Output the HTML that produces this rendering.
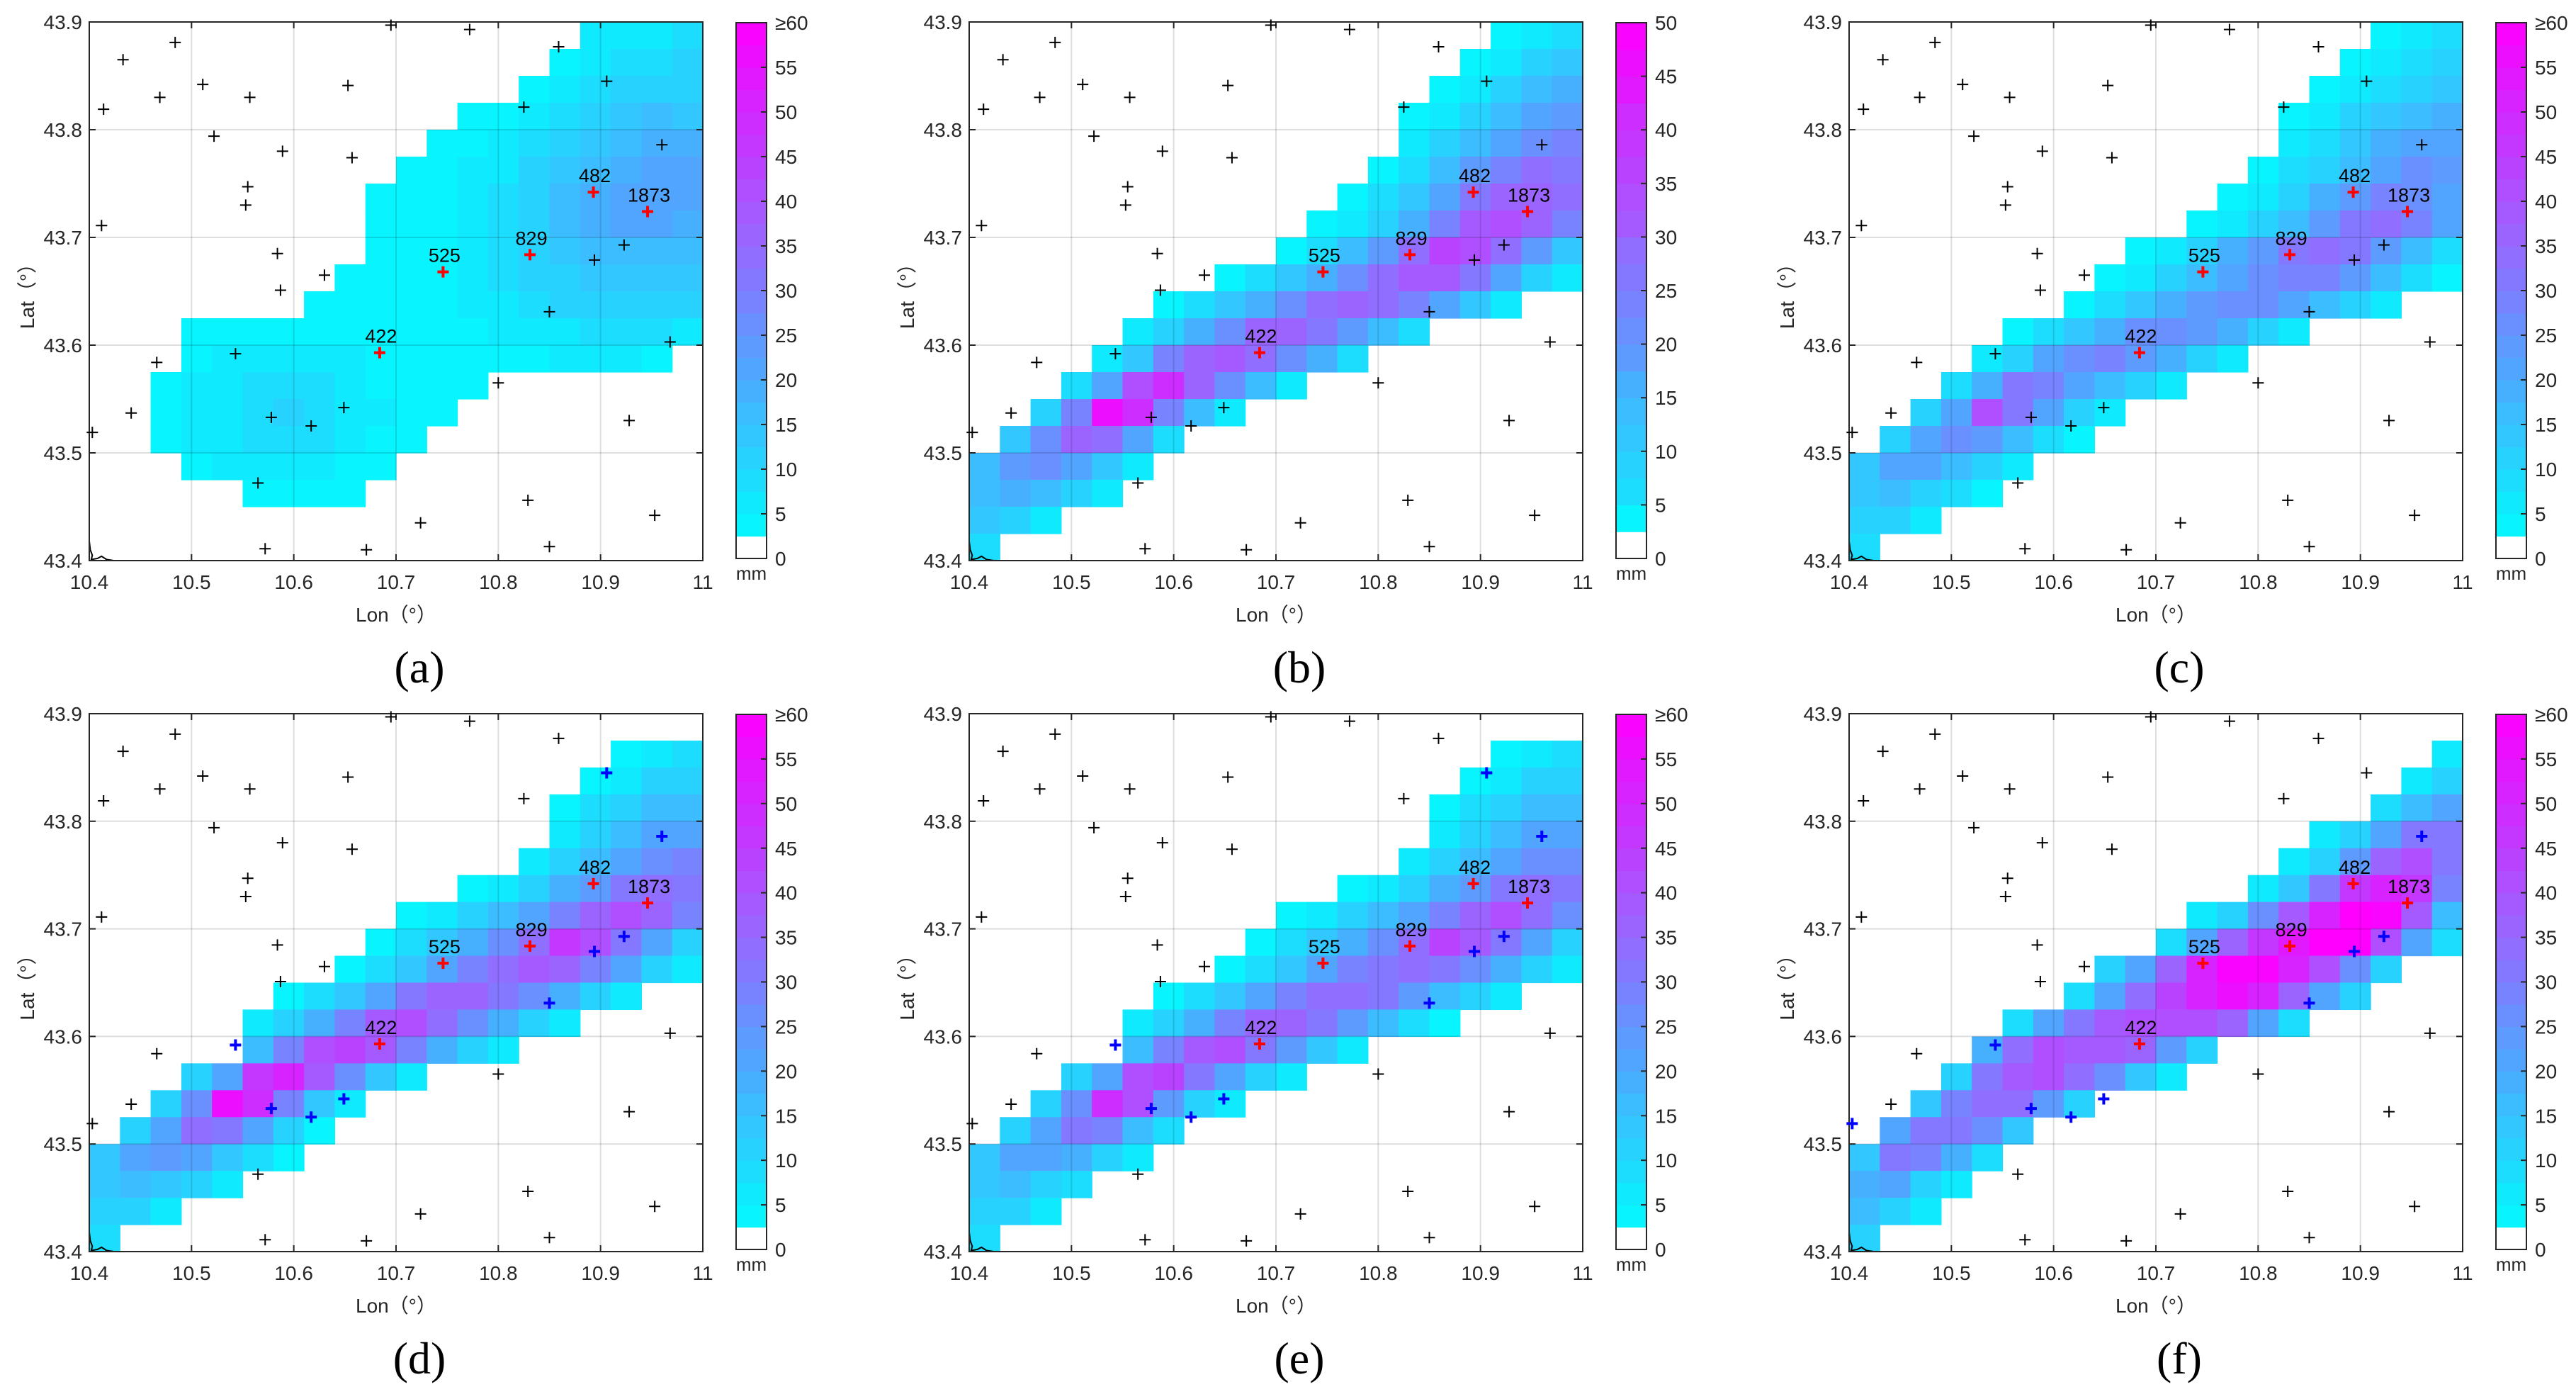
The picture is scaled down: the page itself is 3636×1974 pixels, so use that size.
<!DOCTYPE html>
<html><head><meta charset="utf-8">
<style>
html,body{margin:0;padding:0;background:#fff;}
svg{display:block;}
</style></head>
<body>
<svg id="fig" width="3636" height="1974" viewBox="0 0 3636 1974" xmlns="http://www.w3.org/2000/svg" font-family="Liberation Sans, sans-serif"></svg>
<script>
// ---- data ----
const stationLon = [10.695,10.772,10.484,10.433,10.859,10.511,10.653,10.469,10.557,10.414,10.906,10.825,10.522,10.589,10.657,10.960,10.555,10.553,10.412,10.584,10.630,10.587,10.923,10.894,10.850,10.968,10.466,10.543,10.800,10.441,10.403,10.578,10.617,10.649,10.928,10.565,10.829,10.724,10.953,10.572,10.671,10.850];
const stationLat = [43.897,43.893,43.881,43.865,43.877,43.842,43.841,43.830,43.830,43.819,43.845,43.821,43.794,43.780,43.774,43.786,43.747,43.730,43.711,43.685,43.665,43.651,43.693,43.679,43.631,43.603,43.584,43.592,43.565,43.537,43.519,43.533,43.525,43.542,43.530,43.472,43.456,43.435,43.442,43.411,43.410,43.413];
const redLon = [10.684,10.746,10.831,10.893,10.946];
const redLat = [43.593,43.668,43.684,43.742,43.724];
const redIds = ["422","525","829","482","1873"];
const blueD = [27,31,32,33,24,23,22,10,15];
const blueE = [27,31,32,33,24,23,22,10,15];
const blueF = [30,27,31,32,33,24,23,22,15];
const panelLabels = ["(a)","(b)","(c)","(d)","(e)","(f)"];
const cbMax = [60,50,60,60,60,60];

const rainA = [[16,5,6,7,8],[15,4,6,8,9,10],[14,4,6,8,10,12,12],[12,3,4,6,9,11,13,15,14],[11,3,4,6,8,11,14,17,19,18],[10,3,3,5,7,10,13,16,19,21,20],[9,3,3,4,6,9,12,15,18,20,21,20],[9,3,3,4,6,9,12,15,18,20,20,19],[9,3,3,4,6,9,12,14,16,17,17,16],[8,3,3,3,4,5,8,10,12,13,14,14,13],[7,3,3,3,3,4,5,7,9,10,11,11,11,10],[3,3,4,4,4,4,3,3,3,3,4,5,6,7,8,8,8,7],[3,4,5,6,6,6,5,4,3,3,3,3,4,5,5,5,4],[2,3,5,7,8,9,8,6,4,3,3,3],[2,3,5,7,9,10,9,7,5,3,3],[2,3,5,7,8,9,8,6,4,3],[3,4,5,6,6,5,4,3],[5,3,4,3,3],[],[]];
const rainB = [[17,4,6,8],[16,4,6,9,12],[15,3,6,10,13,16],[14,3,6,10,14,18,20],[14,5,9,14,18,22,24],[13,4,8,13,19,24,28,27],[12,4,7,12,18,25,30,30,28],[11,3,6,10,16,24,32,34,30,24],[10,4,8,13,20,28,36,34,28,20,12],[8,4,7,11,16,22,28,32,32,26,18,10,5],[6,4,7,11,16,22,28,30,28,24,18,12,6],[5,5,10,16,22,30,30,26,20,14,8],[4,5,12,24,30,32,28,22,16,8],[3,8,18,34,40,30,22,14,6],[2,10,24,46,40,24,14,6],[1,12,22,30,28,18,8],[0,14,20,22,18,12,6],[0,14,16,14,10,5],[0,12,10,6],[0,8]];
const rainC = [[17,4,6,8],[16,4,6,9,12],[15,3,5,9,12,14],[14,3,6,10,14,17,18],[14,5,9,14,18,21,22],[13,4,8,12,17,22,25,24],[12,4,7,12,18,24,28,27,22],[11,3,6,10,16,24,32,34,28,20],[9,4,7,12,18,24,30,34,30,24,16,8],[8,4,7,11,16,22,26,28,28,24,16,9,4],[7,4,8,13,19,24,26,26,22,16,10,5],[5,4,9,14,19,25,27,24,18,12,6],[4,5,12,20,26,28,24,18,12,6],[3,8,18,32,28,22,16,10,5],[2,10,22,40,32,20,12,6],[1,12,20,26,24,16,8,4],[0,14,20,22,16,10,5],[0,14,16,12,8,4],[0,12,10,6],[0,8]];
const rainD = [[],[17,4,6,8],[16,4,7,10,12],[15,4,8,12,15,17],[15,7,12,16,20,22],[14,6,11,17,22,26,28],[12,4,7,12,18,24,30,33,32],[10,4,6,10,15,21,28,36,42,36,28],[9,4,8,13,19,26,34,46,40,32,22,12],[8,4,8,14,20,28,34,38,36,28,20,12,6],[6,4,8,14,22,30,36,36,32,26,18,10,5],[5,5,10,18,28,38,40,34,26,18,10,5],[5,16,28,40,44,38,28,18,10,5],[3,10,22,46,50,38,26,14,6],[2,10,26,56,48,28,14,6],[1,12,22,34,32,20,10,4],[0,14,20,24,22,14,8,4],[0,14,16,14,10,5],[0,12,10,6],[0,8]];
const rainE = [[],[17,4,6,8],[16,4,7,10,12],[15,4,8,12,15,17],[15,7,12,16,20,22],[14,6,11,17,22,26,26],[12,4,7,12,18,24,30,34,30],[10,4,6,10,15,21,28,36,40,34,26],[9,4,8,13,19,26,34,44,38,30,20,10],[8,4,8,14,20,28,32,34,32,26,18,10,5],[6,4,8,14,22,28,34,34,30,24,16,10,5],[5,5,10,18,28,36,36,30,24,16,8,4],[5,16,28,38,40,32,24,14,6],[3,10,22,42,44,32,22,12,5],[2,10,26,48,40,24,12,5],[1,12,22,32,28,16,8],[0,14,20,22,18,12,5],[0,14,16,12,8],[0,12,10,6],[0,8]];
const rainF = [[],[19,5],[18,6,12],[17,8,16,22],[15,5,12,22,30,32],[14,5,12,24,36,40,30],[13,5,14,30,45,52,45,28],[11,5,12,25,38,52,62,58,38,16],[10,8,20,36,46,54,62,60,40,22,8],[8,10,20,35,50,58,58,50,40,25,10],[7,8,20,34,44,52,56,50,36,22,10],[5,8,20,32,38,40,40,42,36,22,8],[4,18,34,42,38,38,36,24,10],[3,12,30,38,42,34,26,14,5],[2,14,28,34,34,24,10],[1,20,32,32,26,14],[0,14,30,28,18,8],[0,18,20,12,6],[0,16,12,6],[0,10]];
const rainAll = [rainA,rainB,rainC,rainD,rainE,rainF];
const blueAll = [[],[],[],blueD,blueE,blueF];
const lonTicks = [10.4,10.5,10.6,10.7,10.8,10.9,11];
const latTicks = [43.4,43.5,43.6,43.7,43.8,43.9];

// ---- layout ----
const NS="http://www.w3.org/2000/svg";
const svg=document.getElementById('fig');
const plotLefts=[126,1368,2610], plotTops=[31,1007];
const PW=866, PH=760;
const LON0=10.4, LON1=11, LAT0=43.4, LAT1=43.9, DLON=0.03, DLAT=0.025;
function mk(tag,attrs,parent){const e=document.createElementNS(NS,tag);for(const k in attrs)e.setAttribute(k,attrs[k]);(parent||svg).appendChild(e);return e;}
const anchors=[[0,0,255,255],[5,10,240,255],[10,35,215,255],[15,55,195,255],[20,75,170,255],[25,100,150,255],[30,125,125,255],[35,150,105,255],[40,170,85,255],[45,190,60,255],[50,210,40,255],[55,230,20,255],[60,255,0,255]];
function colorOf(v,max){
  let s=v*60/max; if(s<2.5) return null;
  let lvl=Math.min(23,Math.floor((s-2.5)/2.5)); let m=2.5+lvl*2.5+1.25;
  for(let i=0;i<anchors.length-1;i++){const a=anchors[i],b=anchors[i+1];
    if(m>=a[0]&&m<=b[0]){const t=(m-a[0])/(b[0]-a[0]);
      return `rgb(${Math.round(a[1]+(b[1]-a[1])*t)},${Math.round(a[2]+(b[2]-a[2])*t)},${Math.round(a[3]+(b[3]-a[3])*t)})`;}}
  return 'rgb(255,0,255)';
}
function plus(g,x,y,size,color,w){
  return mk('path',{d:`M${x-size} ${y}H${x+size}M${x} ${y-size}V${y+size}`,stroke:color,'stroke-width':w,fill:'none'},g);
}

for(let p=0;p<6;p++){
  const L=plotLefts[p%3], T=plotTops[Math.floor(p/3)], H=(p<3?PH:759);
  const xOf=lon=>L+(lon-LON0)/(LON1-LON0)*PW;
  const yOf=lat=>T+(LAT1-lat)/(LAT1-LAT0)*H;
  const g=mk('g',{});
  
  
  const hm=mk('g',{},g);
  
  
  const grid=rainAll[p];
  for(let r=0;r<grid.length;r++){
    const row=grid[r]; if(!row.length) continue;
    const start=row[0];
    for(let k=1;k<row.length;k++){
      const c=start+k-1; const col=colorOf(row[k],cbMax[p]); if(!col) continue;
      const x0=xOf(LON0+c*DLON), x1=xOf(LON0+(c+1)*DLON);
      const y0=yOf(LAT1-r*DLAT), y1=yOf(LAT1-(r+1)*DLAT);
      const rc=mk('rect',{x:x0,y:y0,width:x1-x0+0.6,height:y1-y0+0.6,fill:col},hm);
      
      
    }
  }
  lonTicks.slice(1,-1).forEach(v=>{mk('line',{x1:xOf(v),x2:xOf(v),y1:T,y2:T+H,stroke:'#000','stroke-opacity':0.13,'stroke-width':2},g);});
  latTicks.slice(1,-1).forEach(v=>{mk('line',{x1:L,x2:L+PW,y1:yOf(v),y2:yOf(v),stroke:'#000','stroke-opacity':0.13,'stroke-width':2},g);});
  const coast=mk('path',{d:`M${xOf(10.4)} ${yOf(43.418)} L${xOf(10.401)} ${yOf(43.41)} L${xOf(10.403)} ${yOf(43.405)} L${xOf(10.402)} ${yOf(43.401)} L${xOf(10.408)} ${yOf(43.402)} L${xOf(10.412)} ${yOf(43.404)} L${xOf(10.417)} ${yOf(43.401)} L${xOf(10.424)} ${yOf(43.4)}`,stroke:'#000','stroke-width':2,fill:'none'},g);
  
  
  const box=mk('rect',{x:L,y:T,width:PW,height:H,fill:'none',stroke:'#262626','stroke-width':2},g);
  
  
  lonTicks.forEach(v=>{
    const x=xOf(v);
    mk('line',{x1:x,x2:x,y1:T+H,y2:T+H-9,stroke:'#262626','stroke-width':2},g);
    mk('line',{x1:x,x2:x,y1:T,y2:T+9,stroke:'#262626','stroke-width':2},g);
    const t=mk('text',{x:x,y:T+H+40,'text-anchor':'middle','font-size':28,fill:'#262626'},g);
    t.textContent=String(v);
    
    
  });
  latTicks.forEach(v=>{
    const y=yOf(v);
    mk('line',{x1:L,x2:L+9,y1:y,y2:y,stroke:'#262626','stroke-width':2},g);
    mk('line',{x1:L+PW,x2:L+PW-9,y1:y,y2:y,stroke:'#262626','stroke-width':2},g);
    const t=mk('text',{x:L-10,y:y+10,'text-anchor':'end','font-size':28,fill:'#262626'},g);
    t.textContent=v.toFixed(1);
    
    
  });
  const xl=mk('text',{x:L+PW/2,y:T+H+86,'text-anchor':'middle','font-size':28,fill:'#262626'},g);
  xl.textContent='Lon（°）';
  
  
  const yl=mk('text',{x:0,y:0,'text-anchor':'middle','font-size':28,fill:'#262626',transform:`translate(${L-78},${T+H/2}) rotate(-90)`},g);
  yl.textContent='Lat（°）';
  
  
  const blues=blueAll[p];
  for(let i=0;i<stationLon.length;i++){
    if(blues.indexOf(i)>=0) continue;
    const m=plus(g,xOf(stationLon[i]),yOf(stationLat[i]),8,'#000',2);
    
    
  }
  blues.forEach(i=>{
    const m=plus(g,xOf(stationLon[i]),yOf(stationLat[i]),8,'#0000ff',4);
    
    
  });
  for(let i=0;i<redLon.length;i++){
    const x=xOf(redLon[i]), y=yOf(redLat[i]);
    const m=plus(g,x,y,8,'#ff0000',4);
    
    
    const t=mk('text',{x:x+2,y:y-14,'text-anchor':'middle','font-size':27,fill:'#000'},g);
    t.textContent=redIds[i];
    
    
  }
  const cbX=L+913, cbW=43, cbT=T+1, cbB=T+H-3, cbH=cbB-cbT;
  const cb=mk('g',{},g);
  
  
  const mx=cbMax[p];
  const nb=mx/2.5;
  for(let k=0;k<nb;k++){
    const lo=k*2.5, hi=(k+1)*2.5;
    const col=k===0?'#ffffff':colorOf(lo+1.25,mx);
    const y0=cbB-hi/mx*cbH, y1=cbB-lo/mx*cbH;
    mk('rect',{x:cbX,y:y0,width:cbW,height:y1-y0+0.6,fill:col},cb);
  }
  mk('rect',{x:cbX,y:cbT,width:cbW,height:cbH,fill:'none',stroke:'#262626','stroke-width':2},cb);
  for(let v=0;v<=mx;v+=5){
    const y=cbB-v/mx*cbH;
    if(v>0&&v<mx) mk('line',{x1:cbX+cbW,x2:cbX+cbW-8,y1:y,y2:y,stroke:'#262626','stroke-width':2},cb);
    const t=mk('text',{x:cbX+cbW+12,y:y+10,'font-size':28,fill:'#262626'},cb);
    t.textContent=(v===mx&&mx===60)?'≥60':String(v);
    
    
  }
  const mm=mk('text',{x:cbX+cbW/2,y:cbB+30,'text-anchor':'middle','font-size':26,fill:'#262626'},cb);
  mm.textContent='mm';
  
  
  const pl=mk('text',{x:L+466,y:T+H+172,'text-anchor':'middle','font-size':64,fill:'#000','font-family':'Liberation Serif, serif'},g);
  pl.textContent=panelLabels[p];
  
  
}
</script>
</body></html>
